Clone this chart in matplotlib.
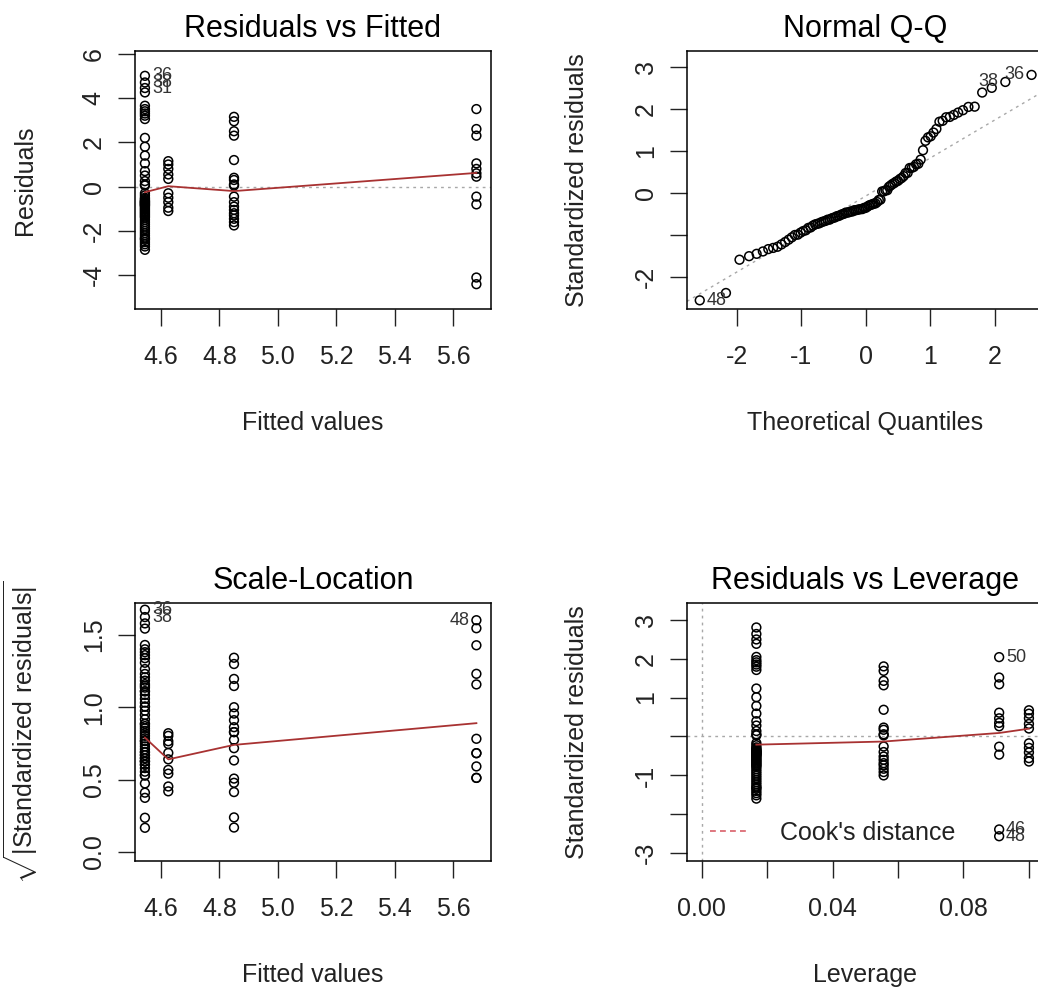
import numpy as np
import matplotlib
matplotlib.use("Agg")
import matplotlib.pyplot as plt
from statistics import NormalDist

plt.rcParams['font.family'] = ['Liberation Sans', 'DejaVu Sans']
plt.rcParams['mathtext.fontset'] = 'custom'
plt.rcParams['mathtext.rm'] = 'Liberation Sans'
plt.rcParams['axes.unicode_minus'] = False

# four fitted levels of the model and their leverages
fitted_vals = [4.545, 4.625, 4.85, 5.68]
leverage_vals = [0.0167, 0.1, 0.0556, 0.0909]
sigma = 1.80

res_a = [5.0, 4.7, 4.45, 4.25, 3.65, 3.5, 3.4, 3.3, 3.2, 3.05, 2.2, 1.8, 1.4, 1.05,
         0.7, 0.5, 0.25, 0.1, 0.05, -0.3, -0.4, -0.5, -0.55, -0.6, -0.65, -0.65,
         -0.7, -0.7, -0.75, -0.75, -0.8, -0.8, -0.85, -0.85, -0.9, -0.95, -1.0,
         -1.05, -1.1, -1.15, -1.2, -1.25, -1.3, -1.35, -1.4, -1.5, -1.6, -1.7,
         -1.8, -1.9, -2.0, -2.1, -2.2, -2.3, -2.35, -2.4, -2.5, -2.6, -2.7, -2.85]
res_b = [1.15, 1.0, 0.8, 0.55, 0.35, -0.3, -0.5, -0.7, -0.95, -1.1]
res_c = [3.15, 2.95, 2.5, 2.3, 1.2, 0.4, 0.3, 0.1, 0.05, -0.45, -0.7, -0.9, -1.05,
         -1.2, -1.3, -1.45, -1.6, -1.75]
res_d = [3.5, 2.6, 2.3, 1.05, 0.8, 0.6, 0.45, -0.45, -0.8, -4.1, -4.4]

# observation numbers of the labelled points
ids_a = {0: "36", 1: "38", 2: "31"}
ids_d = {0: "50", 9: "46", 10: "48"}

# red smoother lines
rvf_smooth_y = [-0.25, 0.02, -0.2, 0.62]
sl_smooth_y = [0.79, 0.64, 0.74, 0.89]
rvl_smooth_x = [0.0167, 0.0556, 0.0909, 0.1]
rvl_smooth_y = [-0.21, -0.13, 0.09, 0.2]

# ticks
fit_ticks = [4.6, 4.8, 5.0, 5.2, 5.4, 5.6]
fit_labels = ["4.6", "4.8", "5.0", "5.2", "5.4", "5.6"]
res_ticks = [-4, -2, 0, 2, 4, 6]
res_labels = ["-4", "-2", "0", "2", "4", "6"]
qq_xticks = [-2, -1, 0, 1, 2]
qq_xlabels = ["-2", "-1", "0", "1", "2"]
qq_yticks = [-2, -1, 0, 1, 2, 3]
qq_ylabels = ["-2", "", "0", "1", "2", "3"]
sl_ticks = [0.0, 0.5, 1.0, 1.5]
sl_labels = ["0.0", "0.5", "1.0", "1.5"]
lev_ticks = [0.0, 0.02, 0.04, 0.06, 0.08, 0.10]
lev_labels = ["0.00", "", "0.04", "", "0.08", ""]
rl_yticks = [-3, -2, -1, 0, 1, 2, 3]
rl_ylabels = ["-3", "", "-1", "", "1", "2", "3"]

groups = [res_a, res_b, res_c, res_d]
resid = np.concatenate([np.array(g, float) for g in groups])
fitted = np.concatenate([[f] * len(g) for f, g in zip(fitted_vals, groups)])
lev = np.concatenate([[h] * len(g) for h, g in zip(leverage_vals, groups)])
ids = [""] * len(resid)
for k, v in ids_a.items():
    ids[k] = v
start_d = len(res_a) + len(res_b) + len(res_c)
for k, v in ids_d.items():
    ids[start_d + k] = v

std_res = resid / (sigma * np.sqrt(1 - lev))
sqrt_abs = np.sqrt(np.abs(std_res))
cooks = std_res ** 2 * lev / (len(groups) * (1 - lev))

n = len(resid)
nd = NormalDist()
theo = np.empty(n)
theo[np.argsort(std_res)] = [nd.inv_cdf((i - 0.5) / n) for i in range(1, n + 1)]
yq = np.percentile(std_res, [25, 75])
xq = np.array([nd.inv_cdf(0.25), nd.inv_cdf(0.75)])
qq_slope = (yq[1] - yq[0]) / (xq[1] - xq[0])
qq_int = yq[0] - qq_slope * xq[0]

W, H = 1038, 990
fig = plt.figure(figsize=(W / 100, H / 100), dpi=100)


def box(left, top, right, bottom):
    return fig.add_axes([left / W, 1 - bottom / H, (right - left) / W, (bottom - top) / H])


RED = '#a83232'
GREY = '#a8a8a8'
DOT = (0, (2.0, 3.0))


def style(ax, title, xlabel, ylabel, xt, xl, yt, yl):
    ax.set_title(title, fontsize=22, pad=10)
    ax.set_xticks(xt)
    ax.set_xticklabels(xl)
    ax.set_yticks(yt)
    ax.set_yticklabels(yl)
    ax.tick_params(direction='out', length=12, width=1.0, labelsize=18,
                   colors='#222222', top=False, right=False)
    ax.tick_params(axis='x', pad=14)
    ax.tick_params(axis='y', labelrotation=90, pad=9)
    for lb in ax.get_yticklabels():
        lb.set_va('center')
    for s in ax.spines.values():
        s.set_linewidth(1.1)
    ax.set_xlabel(xlabel, fontsize=18, color='#222222', va='center')
    ax.set_ylabel(ylabel, fontsize=18, color='#222222', va='center')
    ax.xaxis.set_label_coords(0.5, -114 / 258)
    ax.yaxis.set_label_coords(-110 / 356, 0.5)


def points(ax, x, y):
    ax.scatter(x, y, s=40, facecolors='none', edgecolors='black', linewidths=1.1, zorder=3)


def label_top(ax, x, y, score, side):
    top = np.argsort(-score)[:3]
    for i in top:
        right = side(x[i])
        ax.annotate(ids[i], (x[i], y[i]), xytext=(5 if right else -5, 0),
                    textcoords='offset points', ha='left' if right else 'right',
                    va='center', fontsize=13, color='#333333', zorder=4)


# Residuals vs Fitted
ax1 = box(135, 51, 491, 309)
ax1.axhline(0, color=GREY, ls=DOT, lw=1)
points(ax1, fitted, resid)
ax1.plot(fitted_vals, rvf_smooth_y, color=RED, lw=1.3, zorder=4)
ax1.set_xlim(4.511, 5.730)
ax1.set_ylim(-5.52, 6.12)
style(ax1, "Residuals vs Fitted", "Fitted values", "Residuals",
      fit_ticks, fit_labels, res_ticks, res_labels)
mid = (fitted.min() + fitted.max()) / 2
label_top(ax1, fitted, resid, np.abs(resid), lambda v: v < mid)

# Normal Q-Q
ax2 = box(687, 51, 1043, 309)
ax2.axline((0, qq_int), slope=qq_slope, color=GREY, ls=DOT, lw=1)
points(ax2, theo, std_res)
ax2.set_xlim(-2.77, 2.75)
ax2.set_ylim(-2.77, 3.37)
style(ax2, "Normal Q-Q", "Theoretical Quantiles", "Standardized residuals",
      qq_xticks, qq_xlabels, qq_yticks, qq_ylabels)
label_top(ax2, theo, std_res, np.abs(std_res), lambda v: v < 0)

# Scale-Location
ax3 = box(135, 603, 491, 861)
points(ax3, fitted, sqrt_abs)
ax3.plot(fitted_vals, sl_smooth_y, color=RED, lw=1.3, zorder=4)
ax3.set_xlim(4.511, 5.730)
ax3.set_ylim(-0.062, 1.72)
style(ax3, "Scale-Location", "Fitted values",
      r"$\sqrt{\mathregular{|Standardized\ residuals|}}$",
      fit_ticks, fit_labels, sl_ticks, sl_labels)
ax3.yaxis.set_label_coords(-114 / 356, 0.5)
label_top(ax3, fitted, sqrt_abs, np.abs(std_res), lambda v: v < mid)

# Residuals vs Leverage
ax4 = box(687, 603, 1043, 861)
ax4.axhline(0, color=GREY, ls=DOT, lw=1)
ax4.axvline(0, color=GREY, ls=DOT, lw=1)
points(ax4, lev, std_res)
ax4.plot(rvl_smooth_x, rvl_smooth_y, color=RED, lw=1.3, zorder=4)
ax4.set_xlim(-0.0045, 0.1043)
ax4.set_ylim(-3.2, 3.43)
style(ax4, "Residuals vs Leverage", "Leverage", "Standardized residuals",
      lev_ticks, lev_labels, rl_yticks, rl_ylabels)
label_top(ax4, lev, std_res, cooks, lambda v: True)
ax4.plot([], [], color='#d9606a', ls=(0, (3.5, 2.5)), lw=1.2, label="Cook's distance")
ax4.legend(loc='center left', bbox_to_anchor=(23 / 356, 28 / 258), frameon=False,
           fontsize=18, handlelength=1.6, handletextpad=1.2, borderpad=0,
           borderaxespad=0, labelcolor='#222222')

fig.savefig("out.png", dpi=100, facecolor='white')
